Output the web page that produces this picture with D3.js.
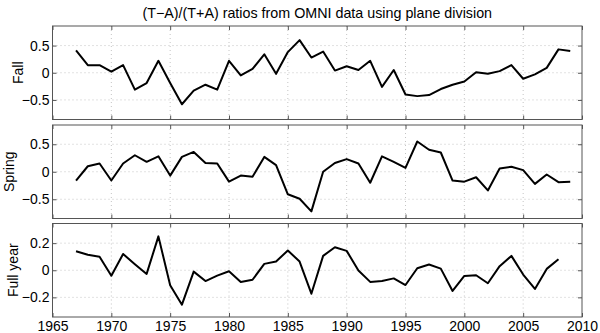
<!DOCTYPE html>
<html>
<head>
<meta charset="utf-8">
<script src="https://cdn.jsdelivr.net/npm/d3@7"></script>
<style>
  body { margin: 0; background: #fff; }
  svg { font-family: 'Liberation Sans', Arial, sans-serif; }
</style>
</head>
<body>
<div id="chart"></div>
<script>
// values
const fallYears = d3.range(1967, 2010);
const fall = [0.41, 0.14, 0.14, 0.02, 0.14, -0.31, -0.19, 0.22, -0.19, -0.58,
  -0.33, -0.22, -0.31, 0.22, -0.05, 0.07, 0.34, -0.02, 0.38, 0.6,
  0.28, 0.39, 0.04, 0.12, 0.05, 0.22, -0.26, 0.05, -0.4, -0.43,
  -0.41, -0.3, -0.22, -0.16, 0.01, -0.02, 0.03, 0.14, -0.11, -0.03,
  0.09, 0.43, 0.4];

const springYears = d3.range(1967, 2010);
const spring = [-0.16, 0.1, 0.15, -0.16, 0.15, 0.3, 0.18, 0.28, -0.07, 0.27,
  0.36, 0.16, 0.15, -0.18, -0.07, -0.09, 0.27, 0.12, -0.41, -0.49,
  -0.72, 0.0, 0.16, 0.23, 0.15, -0.2, 0.28, 0.18, 0.07, 0.55,
  0.4, 0.35, -0.16, -0.18, -0.1, -0.34, 0.06, 0.09, 0.03, -0.22,
  -0.05, -0.19, -0.18];

const fullYears = d3.range(1967, 2009);
const fullYear = [0.14, 0.114, 0.1, -0.04, 0.12, 0.045, -0.027, 0.25, -0.11, -0.254,
  -0.01, -0.08, -0.04, -0.007, -0.086, -0.07, 0.047, 0.064, 0.146, 0.064,
  -0.173, 0.106, 0.17, 0.143, -0.002, -0.086, -0.079, -0.06, -0.109, 0.015,
  0.042, 0.012, -0.153, -0.042, -0.037, -0.096, 0.03, 0.106, -0.032, -0.138,
  0.01, 0.081];

const xTicks = [1965, 1970, 1975, 1980, 1985, 1990, 1995, 2000, 2005, 2010];
const fallTicks = [-0.5, 0, 0.5];
const springTicks = [-0.5, 0, 0.5];
const fullTicks = [-0.2, 0, 0.2];

const panels = [
  { label: 'Fall', years: fallYears, values: fall, ticks: fallTicks, lim: 0.86, top: 26, labelX: 23 },
  { label: 'Spring', years: springYears, values: spring, ticks: springTicks, lim: 0.85, top: 125, labelX: 13.5 },
  { label: 'Full year', years: fullYears, values: fullYear, ticks: fullTicks, lim: 0.345, top: 223.5, labelX: 18 },
];

const width = 600;
const height = 333;
const panelHeight = 93.5;
const tickLen = 4;

const svg = d3.select('#chart')
  .append('svg')
  .attr('width', width)
  .attr('height', height);

const x = d3.scaleLinear()
  .domain([1965, 2010])
  .range([52.5, 582]);

svg.append('text')
  .attr('x', (x.range()[0] + x.range()[1]) / 2)
  .attr('y', 17.5)
  .attr('text-anchor', 'middle')
  .attr('font-size', '14.3px')
  .text('(T\u2212A)/(T+A) ratios from OMNI data using plane division');

panels.forEach((p, i) => {
  const y = d3.scaleLinear()
    .domain([-p.lim, p.lim])
    .range([p.top + panelHeight, p.top]);

  const g = svg.append('g');

  // dotted grid
  g.selectAll('.vgrid')
    .data(xTicks.slice(1, -1))
    .join('line')
    .attr('x1', (d) => x(d))
    .attr('x2', (d) => x(d))
    .attr('y1', p.top)
    .attr('y2', p.top + panelHeight)
    .attr('stroke', '#c4c4c4')
    .attr('stroke-width', 1)
    .style('stroke-dasharray', '1, 3');

  g.selectAll('.hgrid')
    .data(p.ticks)
    .join('line')
    .attr('x1', x.range()[0])
    .attr('x2', x.range()[1])
    .attr('y1', (d) => y(d))
    .attr('y2', (d) => y(d))
    .attr('stroke', '#c4c4c4')
    .attr('stroke-width', 1)
    .style('stroke-dasharray', '1, 3');

  // axes: ticks inward on all four sides
  const bottom = g.append('g')
    .attr('transform', `translate(0, ${p.top + panelHeight})`)
    .call(d3.axisBottom(x).tickValues(xTicks).tickSizeInner(-tickLen).tickSizeOuter(0)
      .tickFormat(i === 2 ? d3.format('d') : ''));
  const top = g.append('g')
    .attr('transform', `translate(0, ${p.top})`)
    .call(d3.axisTop(x).tickValues(xTicks).tickSizeInner(-tickLen).tickSizeOuter(0).tickFormat(''));
  const left = g.append('g')
    .attr('transform', `translate(${x.range()[0]}, 0)`)
    .call(d3.axisLeft(y).tickValues(p.ticks).tickSizeInner(-tickLen).tickSizeOuter(0)
      .tickFormat((d) => (d === 0 ? '0' : d3.format('.1f')(d).replace('-', '\u2212'))));
  const right = g.append('g')
    .attr('transform', `translate(${x.range()[1]}, 0)`)
    .call(d3.axisRight(y).tickValues(p.ticks).tickSizeInner(-tickLen).tickSizeOuter(0).tickFormat(''));

  [bottom, top, left, right].forEach((a) => {
    a.select('.domain').remove();
    a.selectAll('.tick line').attr('stroke', '#555');
    a.selectAll('text').attr('font-size', '14px').attr('fill', '#000')
      .attr('font-family', "'Liberation Sans', Arial, sans-serif");
  });
  // year labels sit just under the last panel, baseline near the bottom edge
  bottom.selectAll('text').attr('y', 4.5).attr('dy', '0.71em');
  left.selectAll('text').attr('x', -3);

  g.append('rect')
    .attr('x', x.range()[0])
    .attr('y', p.top)
    .attr('width', x.range()[1] - x.range()[0])
    .attr('height', panelHeight)
    .attr('fill', 'none')
    .attr('stroke', '#555')
    .attr('stroke-width', 1);

  const line = d3.line()
    .x((d, j) => x(p.years[j]))
    .y((d) => y(d));

  g.append('path')
    .datum(p.values)
    .attr('d', line)
    .attr('fill', 'none')
    .attr('stroke', '#000')
    .attr('stroke-width', 2)
    .attr('stroke-linejoin', 'round');

  g.append('text')
    .attr('transform', `translate(${p.labelX}, ${p.top + panelHeight / 2}) rotate(-90)`)
    .attr('text-anchor', 'middle')
    .attr('font-size', '14px')
    .text(p.label);
});
</script>
</body>
</html>
